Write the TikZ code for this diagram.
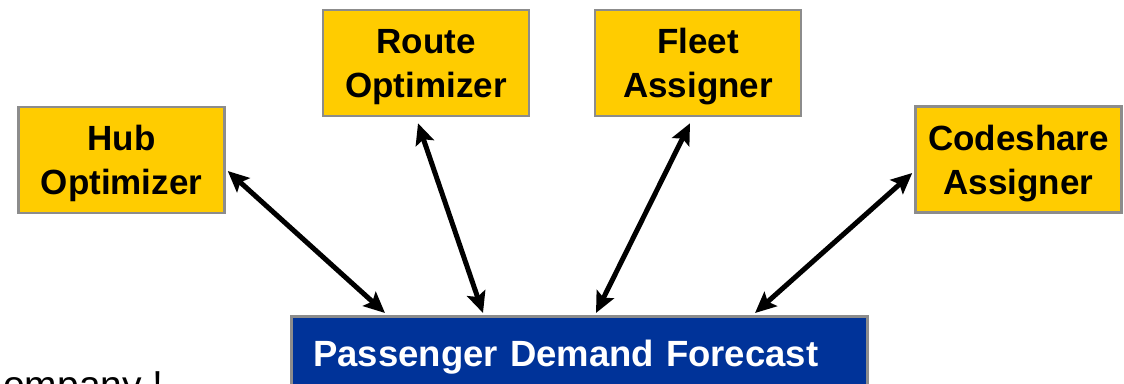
\documentclass[tikz,border=0pt]{standalone}
\usepackage{fontspec}
\setmainfont{Liberation Sans}
\usetikzlibrary{arrows.meta,calc}
\definecolor{boxyellow}{HTML}{FFCC00}
\definecolor{boxblue}{HTML}{003399}
\definecolor{boxgray}{HTML}{8C8C8C}
\tikzset{
  optbox/.style={draw=boxgray, line width=2.5pt, fill=boxyellow, minimum width=206pt, minimum height=106pt,
    inner sep=0pt, align=center, text depth=0pt, font=\bfseries\fontsize{35}{44}\selectfont},
  fcbox/.style={draw=boxgray, line width=2.5pt, fill=boxblue, text=white, anchor=north west,
    text width=532pt, inner xsep=22pt, inner ysep=0pt, minimum height=76pt, align=left,
    text height=25pt, text depth=0pt, font=\bfseries\fontsize{36.5}{44}\selectfont},
  link/.style={line width=5pt, {Stealth[length=21pt,width=19pt,inset=4pt]}-{Stealth[length=21pt,width=19pt,inset=4pt]}},
}
\begin{document}
\begin{tikzpicture}[x=1pt,y=-1pt]
\useasboundingbox (0,0) rectangle (1124,383);
\clip (0,0) rectangle (1124,383);
\fill[white] (0,0) rectangle (1124,383);
\node[optbox] (hub) at (121.5,160) {Hub\\Optimizer};
\node[optbox] (route) at (426,63) {Route\\Optimizer};
\node[optbox] (fleet) at (698,63) {Fleet\\Assigner};
\node[optbox] (code) at (1018.5,159.5) {Codeshare\\Assigner};
\node[fcbox] (pdf) at (290,315) {Passenger Demand Forecast};
\node[anchor=base west, inner sep=0pt, font=\fontsize{39}{46}\selectfont] (cut) at (3,398) {ompany !};
\draw[link] ($(hub.east)+(2,11)$) -- ($(pdf.north west)+(95,-2)$);
\draw[link] ($(route.south)+(-8,6)$) -- ($(pdf.north west)+(193,-2)$);
\draw[link] ($(fleet.south)+(-8,6)$) -- ($(pdf.north west)+(306,-2)$);
\draw[link] ($(code.west)+(-2,13.5)$) -- ($(pdf.north west)+(465,-2)$);
\end{tikzpicture}
\end{document}
